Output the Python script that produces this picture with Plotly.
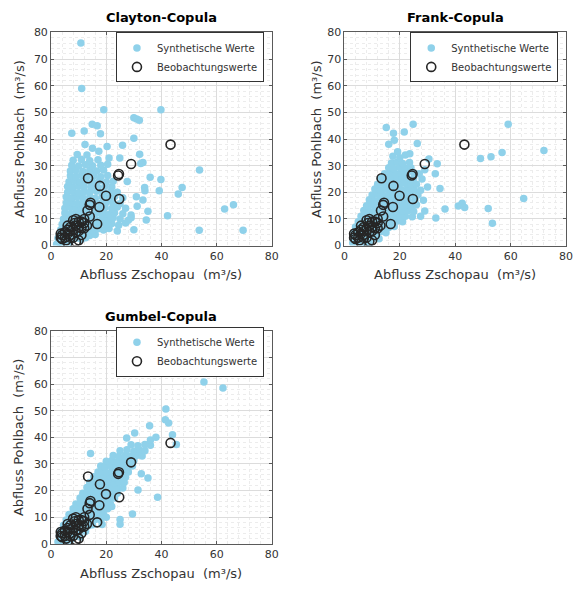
import plotly.graph_objects as go

# ---------------- data ----------------
clayton_pts = [
    (2, 0.5), (3, 1.2), (4, 0.8), (5, 1.5), (6.5, 1), (3.5, 2),
    (2.5, 2.8), (4.5, 2.5), (6, 2.6), (7.5, 2.2), (9, 2.8), (11, 2.4), (12.5, 3),
    (3, 4), (5, 4.2), (7, 3.8), (8.5, 4.4), (10.5, 4), (12, 4.5), (14, 3.8), (16, 4.2),
    (3.5, 6), (5.5, 5.8), (7, 6.3), (9, 6), (11, 5.8), (13, 6.2), (15, 5.7), (17, 6.3), (19, 5.9), (21, 6.4), (24, 5.5),
    (4, 8), (6, 8.2), (8, 7.8), (10, 8.3), (12, 7.9), (14, 8.2), (16, 7.7), (18, 8.4), (20, 7.9), (22, 8.3), (24.5, 7.6), (27, 8.5),
    (4.5, 10), (6.5, 10.3), (8.5, 9.8), (10.5, 10.2), (12.5, 9.9), (14.5, 10.4), (16.5, 9.7), (18.5, 10.2), (20.5, 9.8), (22.5, 10.5), (25, 10), (28, 9.5),
    (5, 12.2), (7, 11.8), (9, 12.3), (11, 12), (13, 12.1), (15, 11.8), (17, 12.4), (19, 12), (21, 11.7), (23, 12.3), (26, 12), (29, 11.5),
    (5, 14), (7, 14.3), (9, 13.8), (11, 14.2), (13, 14), (15.5, 14.4), (17.5, 13.8), (19.5, 14.2), (22, 13.9), (24, 14.5), (27, 14),
    (5.5, 16), (7.5, 16.2), (9.5, 15.8), (11.5, 16.3), (13.5, 16), (16, 16.4), (18, 15.8), (20, 16.2), (22.5, 16), (25, 15.7),
    (5.5, 18.2), (7.5, 17.9), (9.5, 18.3), (11.5, 18), (14, 18.2), (16, 17.8), (18.5, 18.3), (21, 18), (23, 18.4), (26, 18),
    (6, 20), (8, 20.3), (10, 19.8), (12, 20.2), (14, 20), (16.5, 20.4), (19, 19.9), (21.5, 20.2), (24, 20),
    (6, 22.2), (8, 21.9), (10, 22.3), (12, 22), (14.5, 22.2), (17, 21.8), (19.5, 22.3), (22, 22),
    (6.5, 24), (8.5, 24.3), (10.5, 23.8), (12.5, 24.2), (15, 24), (17.5, 24.3), (20, 23.9), (22.5, 24.2),
    (7, 26.2), (9, 25.9), (11, 26.3), (13, 26), (15.5, 26.2), (18, 25.8), (20.5, 26.3),
    (7, 28), (9, 28.3), (11.5, 27.8), (14, 28.2), (16.5, 28), (19, 28.4),
    (7.5, 30.2), (10, 29.9), (12.5, 30.3), (15, 30), (18, 30.2), (20.5, 30.5),
    (8, 32), (11, 32.3), (14, 31.8), (17, 32.2),
    (9.5, 34.2), (13, 34), (17.3, 35.4),
    (12.3, 37.9), (20.3, 37.2), (25.9, 37.7), (15, 36.5),
    (10.8, 76), (11.1, 59), (19.1, 51), (39.8, 51), (54.7, 65), (30, 48), (31, 47.5), (32, 47),
    (14.9, 45.5), (16.7, 45), (12, 43), (17.9, 42), (7.5, 42.2), (30, 40.3), (21, 32.9), (24.9, 32.9),
    (32.1, 34.3), (33.3, 31.2), (32.5, 30.8), (53.8, 28.4), (35.9, 25.7), (39.8, 24.8), (27.6, 24.1),
    (33.9, 21.8), (34, 20.6), (47.5, 21.8), (46.1, 19.4), (39.2, 20.6), (30.9, 18.3), (33.3, 17.1),
    (31.2, 14.8), (35.1, 12.9), (34.5, 9.6), (42.2, 11.2), (62.9, 13.7), (66.1, 15.3), (53.7, 5.8),
    (69.6, 5.8), (29, 10.5), (30, 6),
]

frank_pts = [
    (3, 1), (4.5, 1.5), (6, 0.8), (7.5, 1.3), (9, 1),
    (3, 3), (5, 3.3), (7, 2.8), (9, 3.2), (11, 3), (12.5, 2.6),
    (3.5, 5), (5.5, 5.3), (7.5, 4.8), (9.5, 5.2), (11.5, 5), (13.5, 5.3), (15, 4.8),
    (4, 7), (6, 7.3), (8, 6.8), (10, 7.2), (12, 7), (14, 7.3), (16, 6.8), (18, 7.2),
    (5, 9), (7, 9.3), (9, 8.8), (11, 9.2), (13, 9), (15, 9.3), (17, 8.8), (19, 9.2), (21, 9),
    (6, 11), (8, 11.3), (10, 10.8), (12, 11.2), (14, 11), (16, 11.3), (18, 10.8), (20, 11.2), (22, 11), (24.5, 10.8),
    (7, 13.2), (9, 12.8), (11, 13.3), (13, 13), (15, 13.2), (17, 12.8), (19, 13.3), (21, 13), (23, 13.2), (25, 12.8),
    (8, 15), (10, 15.3), (12, 14.8), (14, 15.2), (16, 15), (18, 15.3), (20, 14.8), (22, 15.2), (24, 15), (26, 15.3),
    (9, 17.2), (11, 16.8), (13, 17.3), (15, 17), (17, 17.2), (19, 16.8), (21, 17.3), (23, 17), (25.5, 17.2),
    (10, 19), (12, 19.3), (14, 18.8), (16, 19.2), (18, 19), (20, 19.3), (22, 18.8), (24, 19.2), (26.5, 19),
    (11, 21.2), (13, 20.8), (15, 21.3), (17, 21), (19, 21.2), (21, 20.8), (23, 21.3), (25, 21), (27.5, 20.8),
    (12, 23), (14, 23.3), (16, 22.8), (18, 23.2), (20, 23), (22, 23.3), (24, 22.8), (26, 23),
    (13, 25.2), (15, 24.8), (17, 25.3), (19, 25), (21, 25.2), (23, 24.8), (25, 25.3), (28, 25),
    (14.5, 27), (16.5, 27.3), (18.5, 26.8), (20.5, 27.2), (22.5, 27), (25, 27.3), (27, 27),
    (16, 29.2), (18, 28.8), (20, 29.3), (22, 29), (24, 29.2), (29, 28.5),
    (17, 31), (19, 31.3), (21, 30.8), (23.5, 31.2), (30.5, 32.5),
    (17.5, 33.5), (20, 33), (22, 34),
    (15.1, 44.3), (17.7, 42.2), (21.6, 42.6), (24.8, 45.5), (59.1, 45.5), (72, 35.7), (49.1, 32.7),
    (52.9, 33.3), (56.9, 34.9), (64.7, 17.7), (41.1, 14.9), (43.4, 14.3), (42.5, 15.9), (51.9, 13.9),
    (53.4, 8.4), (36.3, 13.7), (33, 10.4), (34.5, 21.4), (32.8, 27), (33.5, 30.7), (26.3, 38.3),
    (23.6, 34.5), (19.2, 35.2), (16, 38), (18, 39.5), (28.5, 17), (30, 22), (29, 13), (27.5, 11),
]

gumbel_pts = [
    (2.5, 0.8), (4, 1.2), (5.5, 1), (7, 1.5),
    (3, 3), (4.5, 3.3), (6, 2.8), (7.5, 3.2), (9, 3), (10.5, 2.6),
    (3.5, 5), (5, 5.3), (6.5, 4.8), (8, 5.2), (9.5, 5), (11, 5.3), (12.5, 4.8),
    (4.5, 7), (6, 7.3), (7.5, 6.8), (9, 7.2), (10.5, 7), (12, 7.3), (13.5, 6.8), (15, 7.2),
    (5.5, 9), (7, 9.3), (8.5, 8.8), (10, 9.2), (11.5, 9), (13, 9.3), (14.5, 8.8), (16, 9.2), (18, 9),
    (6.5, 11), (8, 11.3), (9.5, 10.8), (11, 11.2), (12.5, 11), (14, 11.3), (15.5, 10.8), (17, 11.2), (19, 11),
    (8, 13.2), (9.5, 12.8), (11, 13.3), (12.5, 13), (14, 13.2), (15.5, 12.8), (17, 13.3), (18.5, 13), (20.5, 13.2),
    (9, 15), (10.5, 15.3), (12, 14.8), (13.5, 15.2), (15, 15), (16.5, 15.3), (18, 14.8), (19.5, 15.2), (21.5, 15),
    (10.5, 17.2), (12, 16.8), (13.5, 17.3), (15, 17), (16.5, 17.2), (18, 16.8), (19.5, 17.3), (21, 17), (23, 17.2),
    (11.5, 19), (13, 19.3), (14.5, 18.8), (16, 19.2), (17.5, 19), (19, 19.3), (20.5, 18.8), (22, 19.2), (24, 19),
    (13, 21.2), (14.5, 20.8), (16, 21.3), (17.5, 21), (19, 21.2), (20.5, 20.8), (22, 21.3), (24, 21), (26, 21),
    (14, 23), (15.5, 23.3), (17, 22.8), (18.5, 23.2), (20, 23), (21.5, 23.3), (23, 22.8), (24.5, 23.2), (26.5, 23),
    (15.5, 25.2), (17, 24.8), (18.5, 25.3), (20, 25), (21.5, 25.2), (23, 24.8), (25, 25.3), (27, 25),
    (17, 27), (18.5, 27.3), (20, 26.8), (22, 27.2), (24, 27), (26, 27.3), (28, 27),
    (18, 29.2), (19.5, 28.8), (21.5, 29.3), (23.5, 29), (25.5, 29.2), (27.5, 28.8), (29.5, 29.2),
    (20, 31), (22, 31.3), (24, 30.8), (26, 31.2), (28, 31), (30, 31.3),
    (22.5, 33.2), (24.5, 32.8), (27, 33.3), (29, 33), (31, 33.2), (33, 33),
    (25, 35), (27.5, 35.3), (30, 34.8), (32, 35.2), (34, 35),
    (29, 37.2), (31.5, 36.8), (34, 37.3), (36, 37),
    (55.4, 60.8), (62.3, 58.5), (41.6, 50.6), (41.4, 46.6), (42.6, 45.4), (44, 41), (45.4, 37.3),
    (35.7, 44.3), (30.3, 41.6), (27.4, 39.7), (14.3, 33.9), (38.6, 17.5), (35.1, 24.7), (32.7, 26.3),
    (31.5, 20.2), (29.5, 11.2), (25, 9.2), (25, 7.4), (36, 39), (38, 40), (20, 10), (22, 14), (18.5, 7.3),
]

obs_pts = [
    (43.3, 37.9), (29, 30.6), (24.3, 26.3), (24.6, 26.9), (13.4, 25.3), (17.7, 22.4), (19.9, 18.7),
    (24.7, 17.5), (14.3, 16.1), (14, 15.3), (17.5, 14.5), (13.2, 13.2), (14, 10.9), (16.7, 8.1),
    (8, 9.5), (8.5, 8.5), (10, 9), (11, 9), (12, 8.5), (9, 7.5), (10, 7), (11, 6.5), (7, 7), (6, 6),
    (5, 5), (6, 4.5), (7, 5.5), (8, 6), (9, 5), (10, 5.5), (4, 4), (3.5, 3), (3.5, 4.5), (5, 3),
    (4, 2.5), (5.5, 2), (6, 1), (9, 1.5), (10, 2), (8, 3), (7, 4), (12, 10), (9, 10), (6, 7.5),
    (7, 3), (12, 6.5), (13, 7.5), (11, 4),
]

panel_titles = ["Clayton-Copula", "Frank-Copula", "Gumbel-Copula"]
series_names = ["Synthetische Werte", "Beobachtungswerte"]
x_title = "Abfluss Zschopau\u00a0 (m³/s)"
y_title = "Abfluss Pohlbach\u00a0 (m³/s)"
x_ticks = [0, 20, 40, 60, 80]
y_ticks = [0, 10, 20, 30, 40, 50, 60, 70, 80]

# ---------------- layout geometry (pixels) ----------------
W, H = 578, 592
FONT = "DejaVu Sans"
SYN_COLOR = "#8fd1ea"
OBS_COLOR = "#262626"
AX_COLOR = "#5a5a5a"
TXT_COLOR = "#333333"

panels = [
    dict(pts=clayton_pts, ax="", l=48, r=273, t=27, b=245, leg="legend", leg_r=265, leg_t=27, ytx=15),
    dict(pts=frank_pts, ax="2", l=347, r=573, t=27, b=245, leg="legend2", leg_r=565, leg_t=27, ytx=318),
    dict(pts=gumbel_pts, ax="3", l=48, r=273, t=332, b=550, leg="legend3", leg_r=265, leg_t=328, ytx=15),
]

fig = go.Figure()
layout = dict(
    width=W, height=H, margin=dict(l=0, r=0, t=0, b=0),
    paper_bgcolor="white", plot_bgcolor="white",
    font=dict(family=FONT, color=TXT_COLOR, size=11),
    annotations=[],
)

for i, p in enumerate(panels):
    xa = "x" + p["ax"]
    ya = "y" + p["ax"]
    sx = [q[0] for q in p["pts"]]
    sy = [q[1] for q in p["pts"]]
    ox = [q[0] for q in obs_pts]
    oy = [q[1] for q in obs_pts]
    fig.add_trace(go.Scatter(
        x=sx, y=sy, mode="markers", name=series_names[0], xaxis=xa, yaxis=ya,
        legend=p["leg"],
        marker=dict(color=SYN_COLOR, size=7.5, line=dict(width=0)),
    ))
    fig.add_trace(go.Scatter(
        x=ox, y=oy, mode="markers", name=series_names[1], xaxis=xa, yaxis=ya,
        legend=p["leg"],
        marker=dict(symbol="circle-open", color=OBS_COLOR, size=9, line=dict(width=1.6, color=OBS_COLOR)),
    ))
    common = dict(
        range=[0, 80], showline=True, linecolor=AX_COLOR, linewidth=1, mirror="ticks",
        ticks="inside", ticklen=3, tickcolor=AX_COLOR, showgrid=True, gridcolor="#dcdcdc",
        gridwidth=1, zeroline=False, tickfont=dict(family=FONT, size=11, color=TXT_COLOR),
        fixedrange=True,
    )
    layout["xaxis" + p["ax"]] = dict(
        common, domain=[p["l"] / W, p["r"] / W], anchor=ya, tickmode="array", tickvals=x_ticks,
        minor=dict(dtick=4, showgrid=True, gridcolor="#ececec", griddash="dot", ticks=""),
    )
    layout["yaxis" + p["ax"]] = dict(
        common, domain=[1 - p["b"] / H, 1 - p["t"] / H], anchor=xa, tickmode="array", tickvals=y_ticks,
        minor=dict(dtick=2, showgrid=True, gridcolor="#ececec", griddash="dot", ticks=""),
    )
    layout[p["leg"]] = dict(
        x=p["leg_r"] / W, xanchor="right", y=1 - p["leg_t"] / H, yanchor="top",
        bgcolor="white", bordercolor="#333333", borderwidth=1,
        font=dict(family=FONT, size=10, color=TXT_COLOR), tracegroupgap=0,
        itemsizing="trace",
    )
    cx = (p["l"] + p["r"]) / 2 / W
    layout["annotations"] += [
        dict(text="<b>" + panel_titles[i] + "</b>", x=cx, y=1 - (p["t"] - 15) / H, xref="paper", yref="paper",
             xanchor="center", yanchor="middle", showarrow=False, font=dict(family=FONT, size=13, color="black")),
        dict(text=x_title, x=cx, y=1 - (p["b"] + 30) / H, xref="paper", yref="paper",
             xanchor="center", yanchor="middle", showarrow=False, font=dict(family=FONT, size=13, color=TXT_COLOR)),
        dict(text=y_title, x=p["ytx"] / W, y=1 - (p["t"] + p["b"]) / 2 / H, xref="paper", yref="paper",
             xanchor="center", yanchor="middle", textangle=-90, showarrow=False,
             font=dict(family=FONT, size=13, color=TXT_COLOR)),
    ]

fig.update_layout(**layout)
fig.write_html("out.html")
